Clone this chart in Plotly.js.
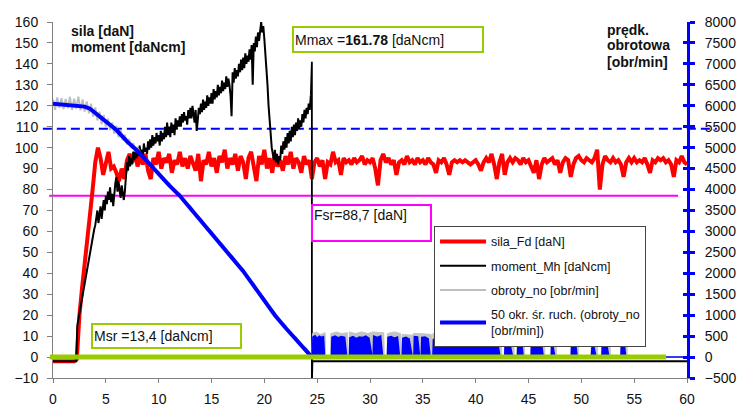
<!DOCTYPE html>
<html>
<head>
<meta charset="utf-8">
<script src="https://cdn.plot.ly/plotly-3.0.1.min.js"></script>
<style>html,body{margin:0;padding:0;background:#fff;}#chart{width:738px;height:409px;}</style>
</head>
<body>
<div id="chart"></div>
<script>
// ---- series names ----
const seriesNames = ["sila_Fd [daN]", "moment_Mh [daNcm]", "obroty_no [obr/min]", "50 okr. śr. ruch. (obroty_no<br>[obr/min])"];

// ---- sila_Fd [daN], sampled every 0.25 s from t = 0 ----
const silaT0 = 0;
const silaDt = 0.25;
const silaFd = [
 -2,-2,-2,-2,-2,-2,-2,-2,-2,-1,
 20,33,46,57,68,80,93,100,95,87,
 92,98,90,91,88,84,90,85,94,97,
 93,98,91,96,92,97,89,85,95,92,
 98,90,95,93,97,88,94,92,98,91,
 95,90,96,93,89,97,84,94,92,98,
 91,95,88,96,93,99,90,95,92,97,
 89,96,93,85,95,98,91,84,96,92,
 99,90,95,88,97,91,94,89,96,92,
 98,90,95,93,88,96,92,94,85,93,
 95,91,94,85,93,92,98,93,94,87,
 95,93,94,92,95,93,94,96,92,94,
 93,95,90,82,94,97,93,95,92,94,
 87,93,94,92,96,93,94,92,95,93,
 94,92,95,93,92,88,94,93,95,92,
 87,93,94,93,94,93,94,93,92,93,
 94,92,89,93,95,93,97,92,85,93,
 97,87,93,95,93,95,94,92,95,93,
 94,91,88,94,85,92,95,93,94,95,
 92,94,88,93,95,94,86,92,95,96,
 94,93,95,94,93,95,99,80,92,96,
 94,93,95,93,94,92,86,93,95,93,
 95,93,94,93,95,92,88,94,93,95,
 94,95,93,94,92,86,94,93,96,93,
 92
];

// ---- moment_Mh [daNcm], sampled every 0.1 s from t = 0 up to 24.4 s ----
const momentT0 = 0;
const momentDt = 0.1;
const momentMh = [
 -2,-2,-2,-2,-2,-2,-2,-2,-2,-2,
 -2,-2,-2,-2,-2,-2,-2,-2,-2,-2,
 -2,-2,-2,15,18,21,24,27,30,33,
 36,38,41,44,47,50,52,55,58,61,
 63,66,70,64,68,72,66,71,75,70,
 77,73,79,75,81,74,78,72,80,83,
 86,79,84,80,76,82,77,75,79,88,
 93,89,96,91,95,92,98,94,99,95,
 100,96,101,97,99,95,102,98,100,97,
 103,99,104,100,106,101,105,102,107,103,
 106,101,108,103,107,104,110,105,112,106,
 110,105,112,107,111,106,114,109,113,110,
 115,110,116,112,117,113,115,111,118,114,
 119,114,120,116,112,118,108,113,119,116,
 121,117,123,118,122,119,125,120,124,121,
 126,121,128,123,127,124,130,125,129,126,
 132,127,131,128,134,129,133,130,125,115,
 136,131,138,133,137,134,140,136,142,137,
 143,138,145,140,144,141,147,142,149,130,
 150,146,153,148,155,151,157,160,155,158,
 152,146,138,130,120,112,106,100,97,94,
 99,93,97,92,96,94,101,97,103,99,
 105,100,107,102,108,103,110,105,111,106,
 112,108,114,109,113,110,116,112,118,114,
 119,116,121,118,125
];
// spike at the end of the cut and the rest of the record
const momentTailT = [24.4, 24.5, 24.5, 24.55, 60];
const momentTail = [125, 141, -14, -2, -2];

// ---- obroty_no [obr/min] ----
const obrotyT = [0,0.2,0.4,0.6,0.8,1.0,1.2,1.4,1.6,1.8,2.0,2.2,2.4,2.6,2.8,3.0,3.2,3.4,3.6,3.8,4.0,4.2,4.4,4.6,4.8,5.0,5.2,5.4,5.6,5.8,6.0,6.2,6.4,6.6,6.8,7.0,7.2,7.4,7.6,7.8,8.0,8.5,9,9.5,10,10.5,11,11.5,12,12.5,13,13.5,14,14.5,15,15.5,16,16.5,17,17.5,18,18.5,19,19.5,20,20.5,21,21.5,22,22.5,23,23.5,24,24.5];
const obrotyNo = [6150,5900,6200,5950,6180,5920,6160,5940,6210,5900,6170,5930,6220,5890,6150,5860,6100,5820,6050,5740,5960,5650,5860,5560,5780,5500,5690,5420,5600,5330,5520,5250,5420,5180,5310,5080,5210,4990,5110,4900,5000,4760,4700,4480,4420,4220,4150,3960,3900,3690,3600,3390,3300,3090,3000,2790,2700,2490,2400,2190,2100,1860,1750,1510,1400,1140,1050,840,750,540,470,270,200,0];
// after the spindle stops (bursts)
const obrotyTailT = [24.5,24.55,24.9,25.3,25.75,25.8,26.25,26.3,26.8,27.3,27.85,27.9,28.0,28.05,28.6,29.2,29.8,30.25,31.3,31.35,31.6,31.65,32.3,32.9,32.95,33.0,33.05,34.05,34.1,34.8,35.8,35.85,35.9,35.95,37,38,39,40,41,42.4,42.45,42.7,42.75,43.6,43.65,43.9,43.95,44.6,44.65,45.2,45.25,46.5,46.55,47.1,47.15,47.6,47.65,49.0,49.05,49.7,49.75,50.9,50.95,51.5,51.55,51.9,51.95,52.7,52.75,53.7,53.75,54.3,54.35,60];
const obrotyTail = [0,560,600,540,580,0,0,560,600,560,580,0,0,600,560,600,560,600,580,0,0,560,600,560,0,0,540,520,560,560,540,0,0,560,600,560,600,560,600,580,0,0,560,580,0,0,560,560,0,0,580,540,0,0,520,520,0,0,580,560,0,0,320,320,0,0,580,560,0,0,540,540,0,0];

// ---- 50-point moving average of obroty_no [obr/min] ----
const avgT = [0,1,2,3,3.5,4,4.5,5,5.5,6,7,8,9,10,11,12,13,14,15,16,17,18,19,20,20.5,21,22,23,24,24.5];
const avgNo = [6050,6030,6020,5980,5930,5830,5720,5620,5520,5420,5150,4920,4650,4370,4100,3850,3550,3250,2950,2650,2350,2050,1700,1350,1150,1000,700,420,150,0];
const avgTailT = [24.5,24.55,24.6,24.8,25.0,25.2,25.4,25.6,25.7,26.35,26.4,26.7,27.0,27.3,27.6,27.8,28.05,28.1,28.4,28.7,29.0,29.3,29.6,29.9,30.2,30.3,30.35,30.7,31.0,31.2,31.65,31.7,32.0,32.3,32.6,32.8,33.05,33.1,33.4,33.7,34.0,34.15,34.2,34.5,34.7,34.85,34.9,35.2,35.5,35.7,35.95,36.0,36.3,36.6,36.9,37.2,37.5,37.8,38.1,38.4,38.7,39.0,39.3,39.6,39.9,40.2,40.5,40.8,41.1,41.4,41.7,42.0,42.3,42.75,42.8,43.1,43.5,43.95,44.0,44.3,44.5,45.25,45.3,45.6,45.9,46.2,46.4,47.15,47.2,47.5,49.05,49.1,49.4,49.6,50.95,51.0,51.2,51.4,51.95,52.0,52.3,52.6,53.75,53.8,54.0,54.2,60];
const avgTail = [0,0,480,510,450,500,470,490,0,0,470,500,460,490,470,0,0,460,490,440,480,470,500,450,0,0,500,470,500,0,0,470,490,450,480,0,0,450,470,430,0,0,490,480,0,0,470,480,440,0,0,420,450,460,430,470,440,460,420,450,470,430,460,480,440,470,450,480,460,490,470,500,0,0,480,500,0,0,470,480,0,0,480,470,440,380,0,0,420,0,0,480,470,0,0,220,230,0,0,440,480,0,0,460,470,0,0];

// ---- reference levels ----
const levelSpeed = 109;   // dashed blue (left-axis units)
const levelFsr = 77;      // magenta
const levelZero = 0;      // green
const annMmax = 'Mmax =<b>161.78</b> [daNcm]';
const annFsr = 'Fsr=88,7 [daN]';
const annMsr = 'Msr =13,4 [daNcm]';

const FONT = 'Liberation Sans, Arial, sans-serif';

const traces = [
  {x: obrotyT, y: obrotyNo, yaxis: 'y2', type: 'scatter', mode: 'lines', name: seriesNames[2],
   line: {color: '#BEBEBE', width: 2}, legendgroup: 'N', legendrank: 3},
  {x: obrotyTailT, y: obrotyTail, yaxis: 'y2', type: 'scatter', mode: 'lines', fill: 'tozeroy',
   fillcolor: '#C4C4C4', line: {color: '#C4C4C4', width: 1}, legendgroup: 'N', showlegend: false, hoverinfo: 'skip'},
  {x0: silaT0, dx: silaDt, y: silaFd, type: 'scatter', mode: 'lines', name: seriesNames[0],
   line: {color: '#FF0000', width: 4}, legendgroup: 'F', legendrank: 1},
  {x0: momentT0, dx: momentDt, y: momentMh, type: 'scatter', mode: 'lines', name: seriesNames[1],
   line: {color: '#000000', width: 2}, legendgroup: 'M', legendrank: 2},
  {x: momentTailT, y: momentTail, type: 'scatter', mode: 'lines',
   line: {color: '#000000', width: 1.8}, legendgroup: 'M', showlegend: false, hoverinfo: 'skip'},
  {x: avgT, y: avgNo, yaxis: 'y2', type: 'scatter', mode: 'lines', name: seriesNames[3],
   line: {color: '#0000FF', width: 4}, legendgroup: 'A', legendrank: 4},
  {x: avgTailT, y: avgTail, yaxis: 'y2', type: 'scatter', mode: 'lines', fill: 'tozeroy',
   fillcolor: '#0000FF', line: {color: '#0000FF', width: 1.5}, legendgroup: 'A', showlegend: false, hoverinfo: 'skip'},
  {x: [], y: [], yaxis: 'y3', type: 'scatter', mode: 'lines', showlegend: false}
];

const tickFont = {family: FONT, size: 14, color: '#111'};

const layout = {
  width: 738, height: 409,
  margin: {l: 53, r: 51, t: 22, b: 31},
  paper_bgcolor: '#fff', plot_bgcolor: '#fff',
  showlegend: true,
  xaxis: {range: [0, 60], dtick: 5, showgrid: false, zeroline: false, showline: true, linecolor: '#808080', linewidth: 1,
          ticks: 'outside', ticklen: 4, tickcolor: '#808080', tickfont: tickFont, ticklabelstandoff: 4},
  yaxis: {range: [-10, 160], dtick: 10, showgrid: false, zeroline: false, showline: true, linecolor: '#808080', linewidth: 1,
          ticks: 'outside', ticklen: 5, tickcolor: '#808080', tickfont: tickFont, ticklabelstandoff: 6},
  yaxis2: {range: [-500, 8000], dtick: 500, overlaying: 'y', side: 'right', showgrid: false, zeroline: false,
           showline: true, linecolor: '#0000FF', linewidth: 3, ticks: 'outside', ticklen: 5, tickwidth: 3, tickcolor: '#0000FF',
           tickfont: {family: FONT, size: 14, color: '#111'}, ticklabelstandoff: 7},
  yaxis3: {range: [-500, 8000], dtick: 500, overlaying: 'y', side: 'right', showgrid: false, zeroline: false,
           showline: false, ticks: 'inside', ticklen: 4, tickwidth: 3, tickcolor: '#0000FF', showticklabels: false},
  legend: {x: 0.601, y: 0.427, xanchor: 'left', yanchor: 'top', bgcolor: '#fff', bordercolor: '#444', borderwidth: 1,
           font: {family: FONT, size: 12.5, color: '#111'}, traceorder: 'grouped', tracegroupgap: 5, itemwidth: 46},
  shapes: [
    {type: 'line', xref: 'paper', yref: 'y', x0: -0.016, x1: 1.047, y0: levelSpeed, y1: levelSpeed,
     line: {color: '#0000FF', width: 2, dash: '9px,5px'}, layer: 'below'},
    {type: 'line', xref: 'paper', yref: 'y', x0: -0.006, x1: 0.986, y0: levelFsr, y1: levelFsr,
     line: {color: '#FF00FF', width: 2}, layer: 'below'},
    {type: 'line', xref: 'paper', yref: 'y', x0: -0.005, x1: 0.967, y0: levelZero, y1: levelZero,
     line: {color: '#99CC00', width: 5}, layer: 'above'}
  ],
  annotations: [
    {xref: 'paper', yref: 'paper', x: 0.377, y: 0.989, xanchor: 'left', yanchor: 'top', text: annMmax, showarrow: false,
     width: 186, height: 21, align: 'left', valign: 'middle', bordercolor: '#99CC00', borderwidth: 2, borderpad: 1,
     bgcolor: '#fff', font: {family: FONT, size: 14, color: '#111'}},
    {xref: 'paper', yref: 'paper', x: 0.407, y: 0.489, xanchor: 'left', yanchor: 'top', text: annFsr, showarrow: false,
     width: 115, height: 32, align: 'left', valign: 'top', bordercolor: '#FF00FF', borderwidth: 2, borderpad: 1,
     bgcolor: '#fff', font: {family: FONT, size: 14, color: '#111'}},
    {xref: 'paper', yref: 'paper', x: 0.06, y: 0.1545, xanchor: 'left', yanchor: 'top', text: annMsr, showarrow: false,
     width: 145, height: 20, align: 'left', valign: 'middle', bordercolor: '#99CC00', borderwidth: 2, borderpad: 1,
     bgcolor: '#fff', font: {family: FONT, size: 14, color: '#111'}},
    {xref: 'paper', yref: 'paper', x: 0.026, y: 0.975, xanchor: 'left', yanchor: 'middle', text: '<b>sila [daN]</b>', showarrow: false,
     font: {family: FONT, size: 14, color: '#111'}},
    {xref: 'paper', yref: 'paper', x: 0.026, y: 0.93, xanchor: 'left', yanchor: 'middle', text: '<b>moment [daNcm]</b>', showarrow: false,
     font: {family: FONT, size: 14, color: '#111'}},
    {xref: 'paper', yref: 'paper', x: 0.871, y: 0.978, xanchor: 'left', yanchor: 'middle', text: '<b>prędk.</b>', showarrow: false,
     font: {family: FONT, size: 14, color: '#111'}},
    {xref: 'paper', yref: 'paper', x: 0.871, y: 0.9355, xanchor: 'left', yanchor: 'middle', text: '<b>obrotowa</b>', showarrow: false,
     font: {family: FONT, size: 14, color: '#111'}},
    {xref: 'paper', yref: 'paper', x: 0.871, y: 0.888, xanchor: 'left', yanchor: 'middle', text: '<b>[obr/min]</b>', showarrow: false,
     font: {family: FONT, size: 14, color: '#111'}}
  ]
};

Plotly.newPlot('chart', traces, layout, {displayModeBar: false, staticPlot: true});
</script>
</body>
</html>
